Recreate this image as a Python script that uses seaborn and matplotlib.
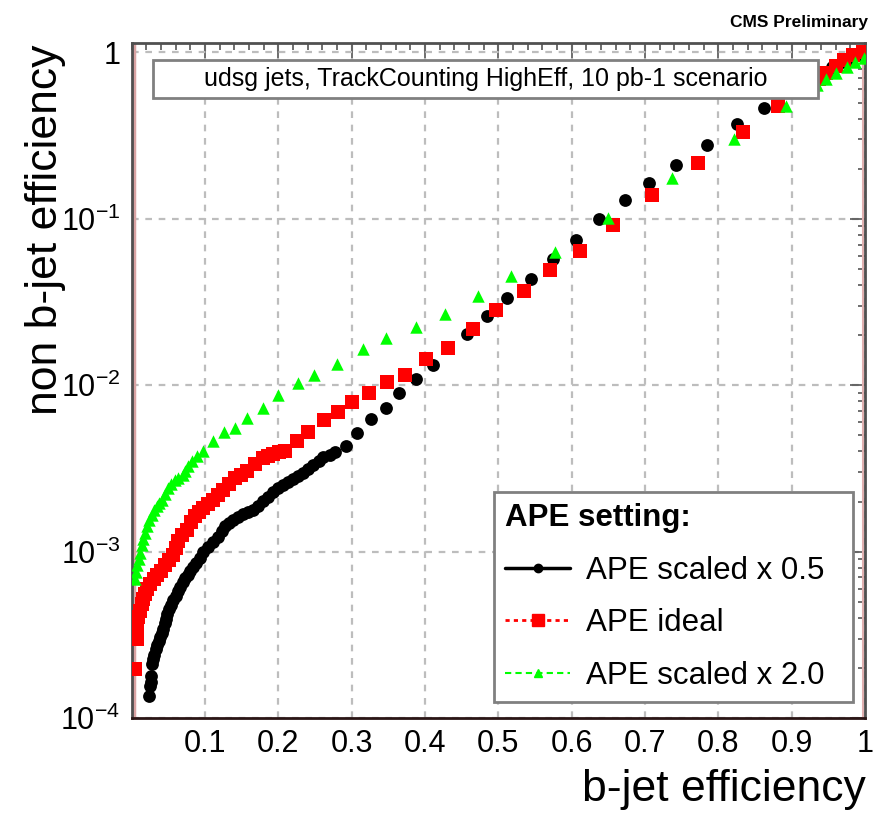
import numpy as np
import pandas as pd
import matplotlib
matplotlib.use('Agg')
import matplotlib.pyplot as plt
from matplotlib.lines import Line2D
from matplotlib.patches import Rectangle
from matplotlib.ticker import FixedLocator, FuncFormatter, LogLocator, MultipleLocator, NullFormatter
import seaborn as sns

# b-jet efficiency (x) vs non b-jet efficiency (y)
black_x = [0.024, 0.025, 0.026, 0.027, 0.028, 0.029, 0.031, 0.033, 0.035, 0.037,
           0.039, 0.041, 0.043, 0.045, 0.047, 0.049, 0.051, 0.054, 0.057, 0.060,
           0.063, 0.066, 0.070, 0.073, 0.077, 0.080, 0.084, 0.088, 0.093, 0.098,
           0.104, 0.111, 0.118, 0.123, 0.128, 0.133, 0.138, 0.145, 0.152, 0.159,
           0.166, 0.172, 0.179, 0.186, 0.193, 0.200, 0.207, 0.213, 0.220, 0.227,
           0.234, 0.241, 0.248, 0.255, 0.261, 0.270, 0.278,
           0.293, 0.308, 0.327, 0.347, 0.365, 0.388, 0.411, 0.458, 0.485, 0.512,
           0.544, 0.574, 0.606, 0.638, 0.673, 0.706, 0.742, 0.784, 0.825, 0.862,
           0.930, 0.942, 0.955, 0.969, 0.982, 0.994]
black_y = [1.35e-4, 1.55e-4, 1.65e-4, 1.78e-4, 2.10e-4, 2.25e-4, 2.40e-4, 2.60e-4, 2.75e-4, 2.90e-4,
           3.07e-4, 3.25e-4, 3.43e-4, 3.70e-4, 3.94e-4, 4.20e-4, 4.52e-4, 4.80e-4, 5.11e-4, 5.40e-4,
           5.78e-4, 6.10e-4, 6.53e-4, 6.90e-4, 7.19e-4, 7.60e-4, 8.03e-4, 8.60e-4, 9.21e-4, 9.90e-4,
           1.07e-3, 1.15e-3, 1.23e-3, 1.33e-3, 1.43e-3, 1.49e-3, 1.55e-3, 1.62e-3, 1.68e-3, 1.73e-3,
           1.78e-3, 1.89e-3, 2.01e-3, 2.14e-3, 2.28e-3, 2.40e-3, 2.51e-3, 2.61e-3, 2.72e-3, 2.83e-3,
           2.95e-3, 3.12e-3, 3.30e-3, 3.49e-3, 3.68e-3, 3.83e-3, 3.99e-3,
           4.33e-3, 5.18e-3, 6.28e-3, 7.30e-3, 8.96e-3, 1.09e-2, 1.33e-2, 2.04e-2, 2.61e-2, 3.34e-2,
           4.34e-2, 5.70e-2, 7.50e-2, 0.100, 0.130, 0.164, 0.212, 0.279, 0.373, 0.465,
           0.710, 0.760, 0.815, 0.871, 0.920, 0.959]

red_x = [0.005, 0.008, 0.008, 0.009, 0.011, 0.014, 0.016, 0.018, 0.021, 0.025,
         0.030, 0.035, 0.040, 0.046, 0.051, 0.057, 0.060, 0.063, 0.069, 0.076,
         0.081, 0.087, 0.092, 0.098, 0.104, 0.111, 0.118, 0.125, 0.133, 0.141,
         0.149, 0.158, 0.168, 0.179, 0.186, 0.193, 0.201, 0.209,
         0.226, 0.241, 0.262, 0.282, 0.301, 0.324, 0.349, 0.373, 0.402, 0.432,
         0.466, 0.497, 0.535, 0.570, 0.611, 0.656, 0.710, 0.772, 0.833, 0.881,
         0.937, 0.947, 0.960, 0.972, 0.984, 0.997]
red_y = [1.96e-4, 2.99e-4, 3.50e-4, 4.05e-4, 4.40e-4, 4.84e-4, 5.20e-4, 5.55e-4, 5.95e-4, 6.36e-4,
         6.80e-4, 7.20e-4, 7.70e-4, 8.26e-4, 8.90e-4, 9.60e-4, 1.05e-3, 1.16e-3, 1.25e-3, 1.35e-3,
         1.50e-3, 1.64e-3, 1.73e-3, 1.83e-3, 1.93e-3, 2.04e-3, 2.19e-3, 2.34e-3, 2.55e-3, 2.76e-3,
         2.90e-3, 3.07e-3, 3.35e-3, 3.63e-3, 3.75e-3, 3.88e-3, 3.95e-3, 4.04e-3,
         4.64e-3, 5.25e-3, 6.19e-3, 6.90e-3, 7.92e-3, 8.96e-3, 1.04e-2, 1.16e-2, 1.43e-2, 1.68e-2,
         2.18e-2, 2.83e-2, 3.67e-2, 4.90e-2, 6.45e-2, 9.21e-2, 0.139, 0.216, 0.334, 0.478,
         0.690, 0.750, 0.826, 0.896, 0.959, 1.0]

green_x = [0.005, 0.006, 0.008, 0.010, 0.012, 0.014, 0.016, 0.018, 0.021, 0.024,
           0.028, 0.031, 0.035, 0.038, 0.042, 0.046, 0.050, 0.054, 0.059, 0.064,
           0.070, 0.073, 0.077, 0.083, 0.089, 0.098, 0.111, 0.126, 0.141, 0.158,
           0.179, 0.200, 0.227, 0.249, 0.280, 0.315, 0.347, 0.388, 0.428, 0.473,
           0.518, 0.578, 0.650, 0.737, 0.822, 0.892, 0.935, 0.947, 0.961, 0.975,
           0.987, 0.998]
green_y = [6.81e-4, 7.50e-4, 8.26e-4, 9.00e-4, 9.87e-4, 1.09e-3, 1.19e-3, 1.30e-3, 1.43e-3, 1.55e-3,
           1.66e-3, 1.77e-3, 1.88e-3, 1.96e-3, 2.04e-3, 2.22e-3, 2.41e-3, 2.55e-3, 2.68e-3, 2.78e-3,
           2.87e-3, 3.05e-3, 3.25e-3, 3.50e-3, 3.73e-3, 4.04e-3, 4.64e-3, 5.25e-3, 5.55e-3, 6.36e-3,
           7.30e-3, 8.71e-3, 1.03e-2, 1.16e-2, 1.35e-2, 1.66e-2, 1.93e-2, 2.24e-2, 2.69e-2, 3.44e-2,
           4.52e-2, 6.28e-2, 0.101, 0.175, 0.303, 0.478, 0.637, 0.690, 0.750, 0.815,
           0.871, 0.920]

labels = ['APE scaled x 0.5', 'APE ideal', 'APE scaled x 2.0']
colors = ['#000000', '#ff0000', '#00ff00']
markers = ['o', 's', '^']
xticks = [0.1, 0.2, 0.3, 0.4, 0.5, 0.6, 0.7, 0.8, 0.9, 1.0]
xtick_labels = ['0.1', '0.2', '0.3', '0.4', '0.5', '0.6', '0.7', '0.8', '0.9', '1']

sns.set_style('white')
plt.rcParams['font.family'] = ['Liberation Sans', 'DejaVu Sans']
plt.rcParams['mathtext.fontset'] = 'custom'
plt.rcParams['mathtext.rm'] = 'Liberation Sans'
plt.rcParams['mathtext.it'] = 'Liberation Sans'
plt.rcParams['text.color'] = 'black'
plt.rcParams['xtick.labelcolor'] = 'black'
plt.rcParams['ytick.labelcolor'] = 'black'

fig = plt.figure(figsize=(8.73, 8.13), dpi=100)
ax = fig.add_axes([131.5 / 873, 95 / 813, 733.5 / 873, 675 / 813])

# pinkish bands along the left / right frame
ax.axvline(0.004, color='#d9a3a3', lw=2.5, zorder=1)
ax.axvline(0.997, color='#e0b0b0', lw=1.5, zorder=1)

series = [(black_x, black_y, 85), (red_x, red_y, 95), (green_x, green_y, 80)]
for (xs, ys, s), lab, c, m in zip(series, labels, colors, markers):
    df = pd.DataFrame({'x': xs, 'y': ys})
    sns.scatterplot(data=df, x='x', y='y', ax=ax, color=c, marker=m, s=s,
                    linewidth=0, legend=False, zorder=3)

ax.set_yscale('log')
ax.set_xlim(0, 1)
ax.set_ylim(1e-4, 1.14)
ax.set_xlabel('')
ax.set_ylabel('')

ax.xaxis.set_major_locator(FixedLocator(xticks))
ax.set_xticklabels(xtick_labels)
ax.xaxis.set_minor_locator(MultipleLocator(0.02))
ax.yaxis.set_major_locator(FixedLocator([1e-4, 1e-3, 1e-2, 1e-1, 1]))
ax.yaxis.set_major_formatter(FuncFormatter(
    lambda v, p: '1' if v >= 0.99 else r'$10^{%d}$' % round(np.log10(v))))
ax.yaxis.set_minor_locator(LogLocator(base=10, subs=np.arange(2, 10)))
ax.yaxis.set_minor_formatter(NullFormatter())

ax.tick_params(which='both', direction='in', top=True, right=True,
               labelsize=22, color='#555555', width=1.2)
ax.tick_params(which='major', length=11, pad=8)
ax.tick_params(which='minor', length=5)

ax.grid(True, which='major', linestyle=(0, (3, 3)), color='#bdbdbd', lw=1.6, zorder=0)
for sp in ax.spines.values():
    sp.set_color('#505050')
    sp.set_linewidth(2)
ax.spines['bottom'].set_color('#2a1515')

# header box
ax.add_patch(Rectangle((0.029, 0.919), 0.907, 0.056, transform=ax.transAxes,
                       facecolor='white', edgecolor='#808080', lw=2, zorder=5))
ax.text(0.4825, 0.947, 'udsg jets, TrackCounting HighEff, 10 pb-1 scenario',
        transform=ax.transAxes, ha='center', va='center', fontsize=18, zorder=6)

handles = [
    Line2D([], [], color='black', lw=2.5, ls='-', marker='o', ms=6),
    Line2D([], [], color='red', lw=2, ls=(0, (1.5, 1.5)), marker='s', ms=8),
    Line2D([], [], color='#00ff00', lw=1.5, ls=(0, (3, 2)), marker='^', ms=6),
]
leg = ax.legend(handles, labels, title='APE setting:', loc='lower left',
                bbox_to_anchor=(0.494, 0.024, 0.49, 0.314), mode='expand',
                borderaxespad=0, fontsize=22.5, title_fontproperties={'weight': 'bold', 'size': 22.5},
                alignment='left', frameon=True, fancybox=False, framealpha=1,
                edgecolor='#808080', borderpad=0.35, labelspacing=0.72,
                handlelength=2.1, handletextpad=0.5)
leg.get_frame().set_linewidth(2)
leg.set_zorder(7)

fig.text(868 / 873, 1 - 22 / 813, 'CMS Preliminary', ha='right', va='center',
         fontsize=12.5, fontweight='bold')
fig.text(46 / 873, 1 - 45 / 813, 'non b-jet efficiency', rotation=90,
         ha='center', va='top', fontsize=32)
fig.text(866 / 873, 1 - 801 / 813, 'b-jet efficiency', ha='right', va='baseline',
         fontsize=32)

fig.savefig('out.png', dpi=100)
